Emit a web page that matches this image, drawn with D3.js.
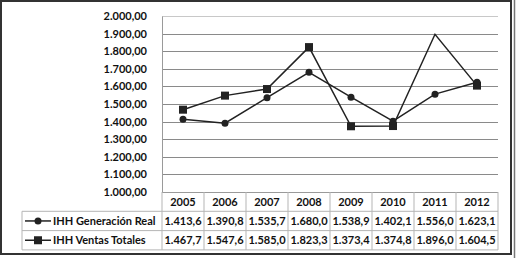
<!DOCTYPE html>
<html>
<head>
<meta charset="utf-8">
<script src="https://cdn.jsdelivr.net/npm/d3@7"></script>
<style>
  body { margin: 0; background: #fff; }
  svg { display: block; font-family: Lato, "Open Sans", sans-serif; font-weight: bold; }
</style>
</head>
<body>
<svg id="chart"></svg>
<script>
const years = ['2005', '2006', '2007', '2008', '2009', '2010', '2011', '2012'];
const generacionReal = [1413.6, 1390.8, 1535.7, 1680.0, 1538.9, 1402.1, 1556.0, 1623.1];
const ventasTotales = [1467.7, 1547.6, 1585.0, 1823.3, 1373.4, 1374.8, 1896.0, 1604.5];
const yTicks = [1000, 1100, 1200, 1300, 1400, 1500, 1600, 1700, 1800, 1900, 2000];
const seriesNames = ['IHH Generación Real', 'IHH Ventas Totales'];
const ventasNoMarker = ['2011'];

const W = 516, H = 258;
const plotLeft = 162, plotRight = 498, plotTop = 16, plotBottom = 192;
const rowH = 19.3;
const legendLeft = 22;

const svg = d3.select('#chart')
    .attr('width', W)
    .attr('height', H);

const fmtAxis = v => {
  const s = d3.format(',.2f')(v);
  return s.replace(/,/g, '#').replace('.', ',').replace(/#/g, '.');
};
const fmtCell = v => {
  const s = d3.format(',.1f')(v);
  return s.replace(/,/g, '#').replace('.', ',').replace(/#/g, '.');
};

let x = d3.scaleBand()
    .domain(years)
    .range([plotLeft, plotRight]);

let y = d3.scaleLinear()
    .domain([1000, 2000])
    .range([plotBottom, plotTop]);

// outer frame
svg.append('rect')
    .attr('x', 1).attr('y', 1)
    .attr('width', 510).attr('height', 253)
    .attr('fill', 'none')
    .attr('stroke', '#333')
    .attr('stroke-width', 2);
svg.append('line')
    .attr('x1', 514.5).attr('x2', 514.5)
    .attr('y1', 0).attr('y2', 258)
    .attr('stroke', '#777')
    .attr('stroke-width', 1.5);

// gridlines
svg.append('g')
    .selectAll('line')
    .data(yTicks.slice(1))
    .join('line')
    .attr('x1', plotLeft).attr('x2', plotRight)
    .attr('y1', d => Math.round(y(d)) + 0.5)
    .attr('y2', d => Math.round(y(d)) + 0.5)
    .attr('stroke', d => d === 2000 ? '#c8c8c8' : '#8a8a8a')
    .attr('stroke-width', 1);

// y axis
let yAxis = d3.axisLeft(y)
    .tickValues(yTicks)
    .tickSize(0)
    .tickPadding(15)
    .tickFormat(fmtAxis);

let ya = svg.append('g')
    .attr('transform', `translate(${plotLeft},0)`)
    .call(yAxis);
ya.select('.domain').attr('stroke', '#9a9a9a');
ya.selectAll('text')
    .attr('font-size', 11)
    .attr('font-family', 'Lato, sans-serif')
    .attr('font-weight', 'bold')
    .attr('fill', '#111');

// data table
const tableTop = plotBottom;
const table = svg.append('g');
const gridColor = '#b5b5b5';

// horizontal table lines
[tableTop + rowH, tableTop + 2 * rowH, tableTop + 3 * rowH].forEach(yy => {
  table.append('line')
      .attr('x1', legendLeft).attr('x2', plotRight)
      .attr('y1', yy).attr('y2', yy)
      .attr('stroke', gridColor);
});
table.append('line')
    .attr('x1', plotLeft).attr('x2', plotRight)
    .attr('y1', tableTop + 0.5).attr('y2', tableTop + 0.5)
    .attr('stroke', '#9a9a9a');

// vertical table lines
table.selectAll('line.col')
    .data(years.concat(['end']))
    .join('line')
    .attr('class', 'col')
    .attr('x1', d => d === 'end' ? plotRight : x(d))
    .attr('x2', d => d === 'end' ? plotRight : x(d))
    .attr('y1', tableTop)
    .attr('y2', tableTop + 3 * rowH)
    .attr('stroke', gridColor);
table.append('line')
    .attr('x1', legendLeft).attr('x2', legendLeft)
    .attr('y1', tableTop + rowH).attr('y2', tableTop + 3 * rowH)
    .attr('stroke', gridColor);

table.selectAll('text.year')
    .data(years)
    .join('text')
    .attr('class', 'year')
    .attr('x', d => x(d) + x.bandwidth() / 2)
    .attr('y', tableTop + rowH / 2 + 4)
    .attr('text-anchor', 'middle')
    .attr('font-size', 11)
    .attr('fill', '#111')
    .text(d => d);

[generacionReal, ventasTotales].forEach((vals, r) => {
  table.selectAll('text.v' + r)
      .data(vals)
      .join('text')
      .attr('class', 'v' + r)
      .attr('x', (d, i) => x(years[i]) + x.bandwidth() / 2)
      .attr('y', tableTop + rowH * (r + 1) + rowH / 2 + 4)
      .attr('text-anchor', 'middle')
      .attr('font-size', 11)
      .attr('fill', '#111')
      .text(d => fmtCell(d));
});

// legend keys
seriesNames.forEach((name, r) => {
  const cy = tableTop + rowH * (r + 1) + rowH / 2;
  const g = table.append('g');
  g.append('line')
      .attr('x1', 25).attr('x2', 51)
      .attr('y1', cy).attr('y2', cy)
      .attr('stroke', '#222').attr('stroke-width', 1.5);
  if (r === 0) {
    g.append('circle').attr('cx', 38).attr('cy', cy).attr('r', 3.5).attr('fill', '#222');
  } else {
    g.append('rect').attr('x', 34).attr('y', cy - 4).attr('width', 8).attr('height', 8).attr('fill', '#222');
  }
  g.append('text')
      .attr('x', 53)
      .attr('y', cy + 4)
      .attr('font-size', 11)
      .attr('fill', '#111')
      .text(name);
});

// series lines
const line = d3.line()
    .x((d, i) => x(years[i]) + x.bandwidth() / 2)
    .y(d => y(d));

svg.append('path')
    .datum(ventasTotales)
    .attr('fill', 'none')
    .attr('stroke', '#222')
    .attr('stroke-width', 1.5)
    .attr('d', line);

svg.append('path')
    .datum(generacionReal)
    .attr('fill', 'none')
    .attr('stroke', '#222')
    .attr('stroke-width', 1.5)
    .attr('d', line);

svg.append('g')
    .selectAll('rect')
    .data(ventasTotales.map((v, i) => ({ year: years[i], v })).filter(d => !ventasNoMarker.includes(d.year)))
    .join('rect')
    .attr('x', d => x(d.year) + x.bandwidth() / 2 - 4)
    .attr('y', d => y(d.v) - 4)
    .attr('width', 8)
    .attr('height', 8)
    .attr('fill', '#222');

svg.append('g')
    .selectAll('circle')
    .data(generacionReal)
    .join('circle')
    .attr('cx', (d, i) => x(years[i]) + x.bandwidth() / 2)
    .attr('cy', d => y(d))
    .attr('r', 3.5)
    .attr('fill', '#222');
</script>
</body>
</html>
